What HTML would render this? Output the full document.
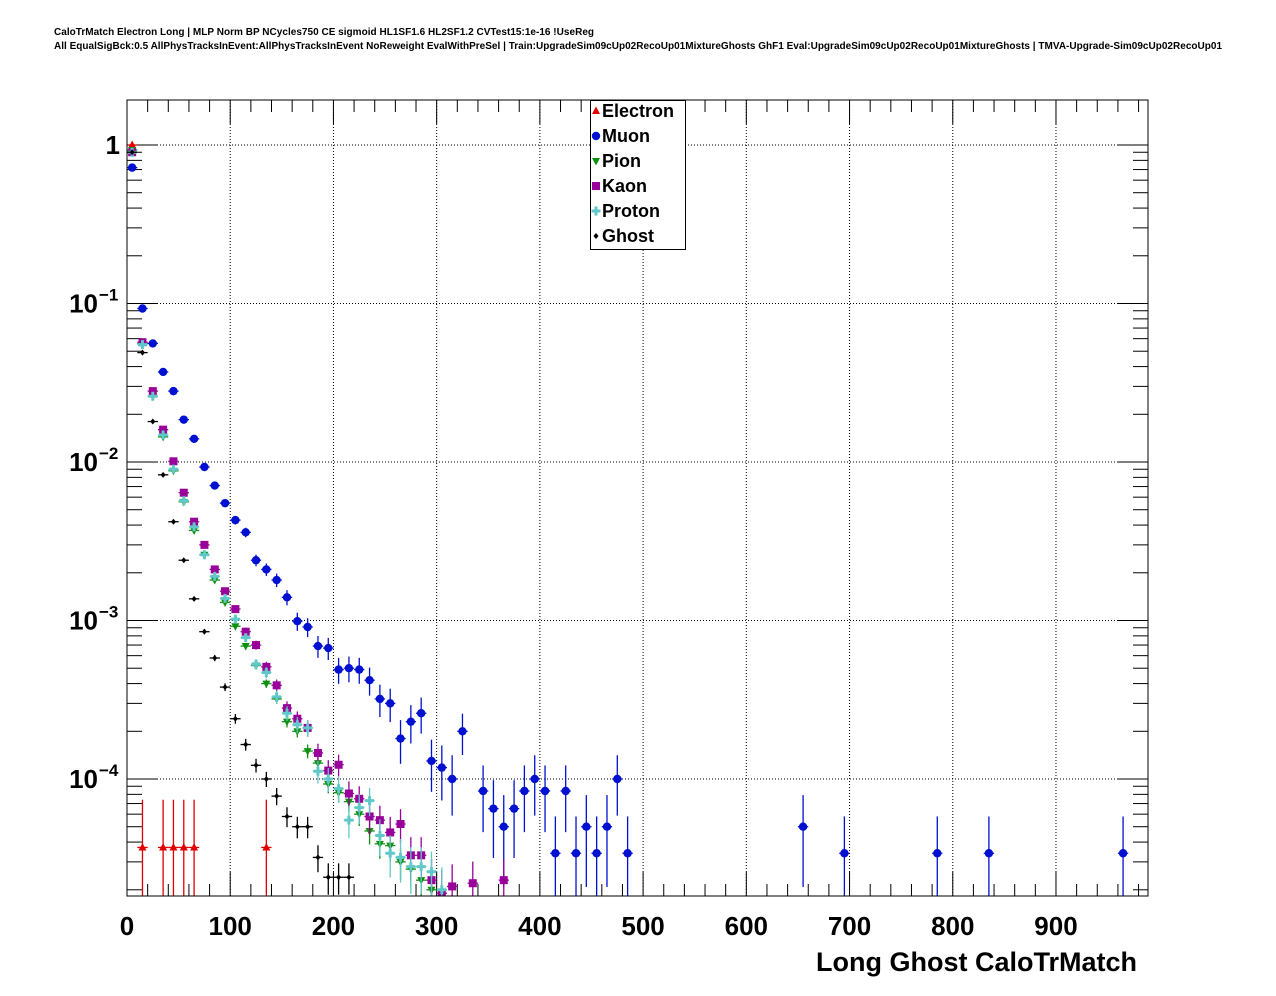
<!DOCTYPE html>
<html><head><meta charset="utf-8"><style>
body{margin:0;background:#fff;}
svg{display:block;font-family:"Liberation Sans",sans-serif;}
</style></head><body>
<svg id="c" width="1276" height="996">
<rect width="1276" height="996" fill="#fff"/>
<text x="54" y="35" font-size="10" font-weight="bold" textLength="540">CaloTrMatch Electron Long | MLP Norm BP NCycles750 CE sigmoid HL1SF1.6 HL2SF1.2 CVTest15:1e-16 !UseReg</text>
<text x="54" y="49" font-size="10" font-weight="bold" textLength="1168">All EqualSigBck:0.5 AllPhysTracksInEvent:AllPhysTracksInEvent NoReweight EvalWithPreSel | Train:UpgradeSim09cUp02RecoUp01MixtureGhosts GhF1 Eval:UpgradeSim09cUp02RecoUp01MixtureGhosts | TMVA-Upgrade-Sim09cUp02RecoUp01</text>
<defs><clipPath id="pc"><rect x="127" y="100" width="1021" height="796"/></clipPath></defs>
<g id="grid"></g>
<g id="ticks"></g>
<g id="marks" clip-path="url(#pc)"></g>
<rect x="127" y="100" width="1021" height="796" fill="none" stroke="#000" stroke-width="1"/>
<g id="labels" font-weight="bold"></g>
<text x="1137" y="971" font-size="27" font-weight="bold" text-anchor="end">Long Ghost CaloTrMatch</text>
<g id="legend">
<rect x="590.5" y="100.5" width="95" height="149" fill="#fff" stroke="#000"/>
</g>
</svg>
<script>
const xTicks=[0,100,200,300,400,500,600,700,800,900];
const yDecades=[1,0.1,0.01,0.001,0.0001];
const yTickLabels=["1","10|−1","10|−2","10|−3","10|−4"];
const seriesNames=["Electron","Muon","Pion","Kaon","Proton","Ghost"];
const electronX=[5,15,35,45,55,65,135];
const electronY=[1.0,3.7e-5,3.7e-5,3.7e-5,3.7e-5,3.7e-5,3.7e-5];
const muonX=[5,15,25,35,45,55,65,75,85,95,105,115,125,135,145,155,165,175,185,195,205,215,225,235,245,255,265,275,285,295,305,315,325,345,355,365,375,385,395,405,415,425,435,445,455,465,475,485,655,695,785,835,965];
const muonY=[0.72,0.093,0.056,0.037,0.028,0.0185,0.014,0.0093,0.0071,0.0055,0.0043,0.0036,0.0024,0.0021,0.0018,0.0014,0.00099,0.00091,0.00069,0.00067,0.00049,0.0005,0.00049,0.00042,0.00032,0.0003,0.00018,0.00023,0.00026,0.00013,0.000118,0.0001,0.0002,8.4e-5,6.5e-5,5e-5,6.5e-5,8.4e-5,1e-4,8.4e-5,3.4e-5,8.4e-5,3.4e-5,5e-5,3.4e-5,5e-5,1e-4,3.4e-5,5e-5,3.4e-5,3.4e-5,3.4e-5,3.4e-5];
const pionX=[5,15,25,35,45,55,65,75,85,95,105,115,125,135,145,155,165,175,185,195,205,215,225,235,245,255,265,275,285,295];
const pionY=[0.93,0.056,0.026,0.0144,0.0088,0.0056,0.0037,0.0026,0.0018,0.0013,0.00092,0.00069,0.00052,0.0004,0.00032,0.00023,0.0002,0.00015,0.000126,9.3e-5,8.2e-5,7.2e-5,6e-5,4.7e-5,3.9e-5,3.8e-5,3e-5,2.7e-5,2.3e-5,2e-5];
const kaonX=[5,15,25,35,45,55,65,75,85,95,105,115,125,135,145,155,165,175,185,195,205,215,225,235,245,255,265,275,285,295,305,315,335,365];
const kaonY=[0.9,0.057,0.028,0.016,0.0101,0.0064,0.0042,0.003,0.0021,0.00153,0.00118,0.00085,0.0007,0.00051,0.00039,0.00028,0.00024,0.00021,0.000146,0.000113,0.000123,8.1e-5,7.5e-5,5.8e-5,5.5e-5,4.6e-5,5.2e-5,3.3e-5,3.3e-5,2.3e-5,1.9e-5,2.1e-5,2.2e-5,2.3e-5];
const protonX=[5,15,25,35,45,55,65,75,85,95,105,115,125,135,145,155,165,175,185,195,205,215,225,235,245,255,265,275,285,295,305];
const protonY=[0.9,0.055,0.026,0.0148,0.009,0.0057,0.0039,0.0026,0.0019,0.00138,0.00102,0.00078,0.00053,0.00047,0.00033,0.00026,0.00022,0.00021,0.000112,0.0001,8.7e-5,5.5e-5,6.6e-5,7.3e-5,4.4e-5,3.4e-5,3.2e-5,2.8e-5,2.8e-5,2.6e-5,2e-5];
const ghostX=[5,15,25,35,45,55,65,75,85,95,105,115,125,135,145,155,165,175,185,195,205,215];
const ghostY=[0.9,0.049,0.018,0.0083,0.0042,0.0024,0.00137,0.00085,0.00058,0.00038,0.00024,0.000165,0.000122,0.0001,7.8e-5,5.8e-5,5e-5,5e-5,3.2e-5,2.4e-5,2.4e-5,2.4e-5];

const NS="http://www.w3.org/2000/svg";
const X0=127,X1=1148,Y0=100,Y1=896;
function xp(v){return 127+1.0322*v;}
function yp(v){return 145-158.5*Math.log10(v);}
function mk(tag,attrs,parent){const e=document.createElementNS(NS,tag);for(const k in attrs)e.setAttribute(k,attrs[k]);parent.appendChild(e);return e;}
const grid=document.getElementById('grid'),ticks=document.getElementById('ticks'),labels=document.getElementById('labels'),marks=document.getElementById('marks'),legend=document.getElementById('legend');
xTicks.forEach((t,i)=>{const x=xp(t);
 if(t>0){const g=mk('line',{x1:x,x2:x,y1:Y0,y2:Y1,stroke:'#000','stroke-dasharray':'1,2'},grid);
 
 }
 const l=mk('text',{x:x,y:935,'font-size':26,'text-anchor':'middle'},labels);l.textContent=t;
 
 
});
for(let v=0;v<=980;v+=20){const x=xp(v);const len=(v%100===0)?24:12;
 mk('line',{x1:x,x2:x,y1:Y1,y2:Y1-len,stroke:'#000'},ticks);
 mk('line',{x1:x,x2:x,y1:Y0,y2:Y0+len,stroke:'#000'},ticks);}
yDecades.forEach((d,i)=>{const y=yp(d);
 const g=mk('line',{x1:X0,x2:X1,y1:y,y2:y,stroke:'#000','stroke-dasharray':'1,2'},grid);
 
 
 const parts=yTickLabels[i].split('|');
 const t=mk('text',{x:parts.length>1?98:120,y:y+9,'font-size':26,'text-anchor':'end'},labels);
 t.textContent=parts[0];
 
 
 if(parts.length>1){const s=mk('text',{x:99,y:y-3,'font-size':17},labels);s.textContent=parts[1];
  
  }
});
for(let e=1;e>=-5;e--){for(let m=1;m<=9;m++){const v=m*Math.pow(10,e);const y=yp(v);if(y<Y0||y>Y1)continue;const len=m===1?30:15;
 mk('line',{x1:X0,x2:X0+len,y1:y,y2:y,stroke:'#000'},ticks);
 mk('line',{x1:X1,x2:X1-len,y1:y,y2:y,stroke:'#000'},ticks);}}
function marker(kind,x,y,col,parent){
 if(kind==='tu')return mk('polygon',{points:`${x},${y-4.5} ${x-4},${y+3} ${x+4},${y+3}`,fill:col},parent);
 if(kind==='td')return mk('polygon',{points:`${x},${y+4.5} ${x-4},${y-3} ${x+4},${y-3}`,fill:col},parent);
 if(kind==='c')return mk('circle',{cx:x,cy:y,r:4.2,fill:col},parent);
 if(kind==='s')return mk('rect',{x:x-4,y:y-4,width:8,height:8,fill:col},parent);
 if(kind==='p')return mk('path',{d:`M${x-4.5},${y-1.5}h3v-3h3v3h3v3h-3v3h-3v-3h-3z`,fill:col},parent);
 return mk('path',{d:`M${x},${y-3}L${x+2.5},${y}L${x},${y+3}L${x-2.5},${y}z`,fill:col},parent);}
const series=[
 {n:'electron',xs:electronX,ys:electronY,c:'#e00000',k:'tu',u:3.7e-5},
 {n:'muon',xs:muonX,ys:muonY,c:'#0010d0',k:'c',u:1.7e-5},
 {n:'pion',xs:pionX,ys:pionY,c:'#109010',k:'td',u:1.5e-6},
 {n:'kaon',xs:kaonX,ys:kaonY,c:'#990099',k:'s',u:3e-6},
 {n:'proton',xs:protonX,ys:protonY,c:'#60c8c8',k:'p',u:3e-6},
 {n:'ghost',xs:ghostX,ys:ghostY,c:'#000',k:'d',u:1.2e-6}];
series.forEach(s=>{const g=mk('g',{},marks);
 
 
 s.xs.forEach((xv,i)=>{const v=s.ys[i];const x=xp(xv),y=yp(v);const err=Math.sqrt(v*s.u);
  const yt=yp(v+err),yb=(v-err>1e-7)?yp(v-err):Y1+10;
  mk('line',{x1:x,x2:x,y1:yt,y2:yb,stroke:s.c,'stroke-width':1.3},g);
  mk('line',{x1:xp(xv-5),x2:xp(xv+5),y1:y,y2:y,stroke:s.c,'stroke-width':1.3},g);
  const m=marker(s.k,x,y,s.c,g);
  
  
 });
});
series.forEach((s,i)=>{const y=111+25*i;
 const m=marker(s.k,596,y,s.c,legend);
 
 
 const t=mk('text',{x:602,y:y+6,'font-size':18,'font-weight':'bold'},legend);t.textContent=seriesNames[i];
 
 
});
</script>
</body></html>
